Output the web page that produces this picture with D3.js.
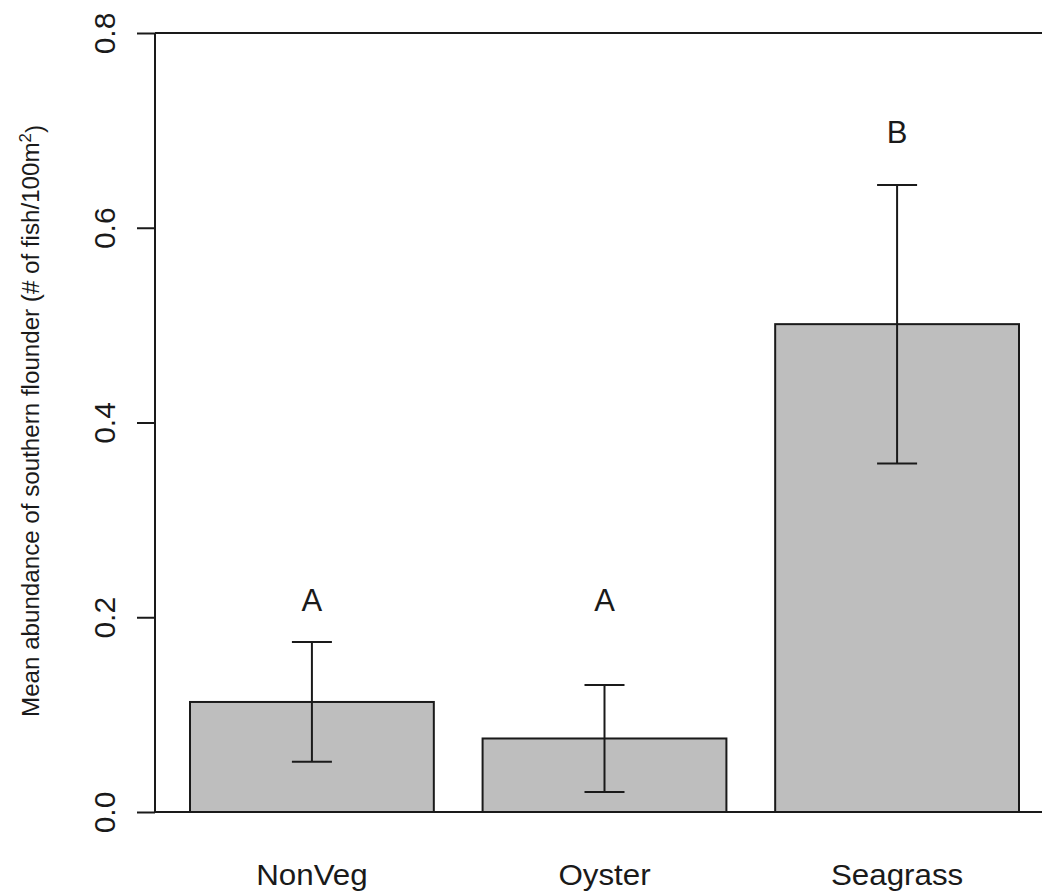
<!DOCTYPE html>
<html>
<head>
<meta charset="utf-8">
<script src="https://cdn.jsdelivr.net/npm/d3@7/dist/d3.min.js"></script>
<style>
  html, body { margin: 0; padding: 0; background: #ffffff; }
  svg { display: block; }
  text { font-family: "Liberation Sans", Arial, sans-serif; fill: #1a1a1a; }
</style>
</head>
<body>
<script>
// Habitat categories and mean flounder abundance with standard errors
const habitats = ["NonVeg", "Oyster", "Seagrass"];
const meanAbundance = [0.113, 0.0755, 0.501];
const stdError = [0.0615, 0.055, 0.143];
// Significance group letters and the height at which each is written
const groupLetters = ["A", "A", "B"];
const letterHeight = [0.218, 0.218, 0.699];
const yTicks = [0.0, 0.2, 0.4, 0.6, 0.8];

const W = 1042, H = 894;
const svg = d3.select("body").append("svg")
  .attr("width", W).attr("height", H);

const y = d3.scaleLinear().domain([0, 0.8]).range([812, 33]);
const x = d3.scaleBand().domain(habitats)
  .range([190, 1019]).paddingInner(1 / 6).paddingOuter(0);

const axisX = 155;
const ink = "#1a1a1a";

// Horizontal frame lines at the top and bottom of the value range
svg.append("g").selectAll("line")
  .data([0, 0.8]).join("line")
  .attr("x1", axisX).attr("x2", W)
  .attr("y1", d => y(d)).attr("y2", d => y(d))
  .attr("stroke", ink).attr("stroke-width", 2);

// Bars
svg.append("g").selectAll("rect")
  .data(habitats).join("rect")
  .attr("x", d => x(d))
  .attr("width", x.bandwidth())
  .attr("y", (d, i) => y(meanAbundance[i]))
  .attr("height", (d, i) => y(0) - y(meanAbundance[i]))
  .attr("fill", "#bebebe")
  .attr("stroke", ink).attr("stroke-width", 2);

// Error bars (mean ± SE)
const capHalf = 20;
const eb = svg.append("g").attr("stroke", ink).attr("stroke-width", 2);
habitats.forEach((h, i) => {
  const cx = x(h) + x.bandwidth() / 2;
  const lo = meanAbundance[i] - stdError[i];
  const hi = meanAbundance[i] + stdError[i];
  eb.append("line").attr("x1", cx).attr("x2", cx)
    .attr("y1", y(lo)).attr("y2", y(hi));
  [lo, hi].forEach(v => {
    eb.append("line").attr("x1", cx - capHalf).attr("x2", cx + capHalf)
      .attr("y1", y(v)).attr("y2", y(v));
  });
});

// Group letters
svg.append("g").selectAll("text")
  .data(groupLetters).join("text")
  .attr("text-anchor", "middle")
  .attr("transform", (d, i) =>
    `translate(${x(habitats[i]) + x.bandwidth() / 2},${y(letterHeight[i]) + 11.5})`)
  .style("font-size", "31px")
  .text(d => d);

// Y axis with rotated tick labels
const yAxis = d3.axisLeft(y).tickValues(yTicks).tickSize(18)
  .tickFormat(d3.format(".1f"));
const gy = svg.append("g").attr("transform", `translate(${axisX},0)`).call(yAxis);
gy.select(".domain").attr("stroke", ink).attr("stroke-width", 2)
  .attr("d", `M0,${y(0)}V${y(0.8)}`);
gy.selectAll(".tick line").attr("stroke", ink).attr("stroke-width", 2);
gy.selectAll(".tick text")
  .attr("x", null).attr("dy", null)
  .attr("text-anchor", "middle")
  .attr("transform", "translate(-40,0) rotate(-90)")
  .style("font-size", "30px")
  .style("font-family", "'Liberation Sans', Arial, sans-serif")
  .attr("fill", ink);

// Category labels
svg.append("g").selectAll("text")
  .data(habitats).join("text")
  .attr("text-anchor", "middle")
  .attr("transform", d => `translate(${x(d) + x.bandwidth() / 2},885) scale(1.08,1)`)
  .style("font-size", "29px")
  .text(d => d);

// Y axis title
const title = svg.append("text")
  .attr("text-anchor", "middle")
  .attr("transform", "translate(39,421) rotate(-90) scale(1.05,1)")
  .style("font-size", "23px");
title.append("tspan").text("Mean abundance of southern flounder (# of fish/100m");
title.append("tspan").attr("dy", "-0.5em").style("font-size", "16px").text("2");
title.append("tspan").attr("dy", "0.5em").text(")");
</script>
</body>
</html>
